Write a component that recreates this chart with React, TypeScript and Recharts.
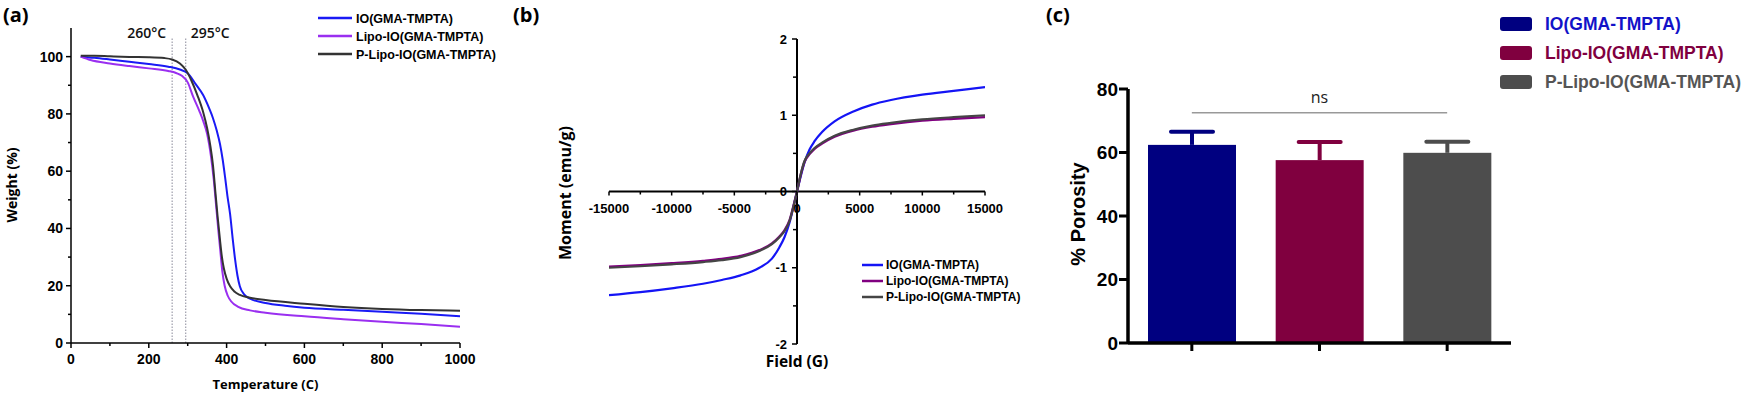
import React from 'react';
import { LineChart, Line, XAxis, YAxis, ReferenceLine, BarChart, Bar, Legend } from 'recharts';

const ARIAL = '"Liberation Sans", Arial, Helvetica, sans-serif';
const OPEN = '"Open Sans", "DejaVu Sans", sans-serif';

// ---------------- shared ----------------
const seriesNames = ['IO(GMA-TMPTA)', 'Lipo-IO(GMA-TMPTA)', 'P-Lipo-IO(GMA-TMPTA)'];

// ---------------- (a) TGA: [temperature C, weight %] ----------------
const tgaIO: [number, number][] = [
  [25, 100], [60, 99.6], [100, 99.0], [150, 98.2], [200, 97.4], [250, 96.5], [280, 95.5], [300, 94.2],
  [320, 90.5], [340, 86.5], [355, 82], [365, 78.5], [375, 74], [383, 69.5], [390, 64], [396, 58],
  [402, 51.5], [409, 45], [416, 36], [422, 29], [428, 23.5], [434, 19.8], [445, 17], [460, 15.5],
  [500, 14], [550, 13], [600, 12.3], [700, 11.6], [800, 10.9], [900, 10.2], [1000, 9.3],
];
const tgaLipo: [number, number][] = [
  [25, 100], [50, 98.8], [100, 97.6], [150, 96.7], [200, 95.9], [250, 95.0], [270, 94.3], [285, 93.3],
  [300, 91], [314, 86], [330, 81], [340, 77.5], [350, 73], [360, 65], [367, 57], [373, 48], [379, 39],
  [384, 32], [389, 25], [395, 20], [403, 16.5], [412, 14.5], [430, 12.6], [460, 11.4], [500, 10.6],
  [600, 9.3], [700, 8.3], [800, 7.4], [900, 6.6], [1000, 5.7],
];
const tgaPLipo: [number, number][] = [
  [25, 100.3], [60, 100.3], [100, 100.1], [150, 99.9], [200, 99.8], [240, 99.5], [260, 99], [280, 97.6],
  [295, 95.4], [310, 91.5], [325, 86.5], [340, 80.5], [350, 75], [358, 69], [365, 62], [371, 53],
  [377, 44], [383, 36], [388, 30], [393, 26], [400, 22.5], [409, 19.8], [420, 18], [434, 16.8],
  [460, 15.8], [500, 15], [600, 13.7], [700, 12.6], [800, 11.9], [900, 11.5], [1000, 11.3],
];
const tgaTicksX = [0, 100, 200, 300, 400, 500, 600, 700, 800, 900, 1000];
const tgaTicksY = [0, 10, 20, 30, 40, 50, 60, 70, 80, 90, 100];
const tgaMarkers = [260, 295];
const tgaMarkerTop = 106.5;

// ---------------- (b) VSM: [field G, moment emu/g] ----------------
const vsmIO: [number, number][] = [
  [-15000, -1.36], [-12500, -1.32], [-10000, -1.27], [-7500, -1.21], [-6000, -1.16], [-4500, -1.1],
  [-3000, -1.0], [-2000, -0.88], [-1400, -0.73], [-1000, -0.6], [-600, -0.41], [-300, -0.21], [0, 0],
  [300, 0.2], [600, 0.38], [1000, 0.55], [1400, 0.66], [2000, 0.78], [3000, 0.92], [4500, 1.05],
  [6000, 1.14], [7500, 1.2], [10000, 1.27], [12500, 1.32], [15000, 1.37],
];
const vsmLipo: [number, number][] = [
  [-15000, -0.985], [-12500, -0.965], [-10000, -0.94], [-7500, -0.91], [-6000, -0.885], [-4500, -0.845],
  [-3000, -0.77], [-2000, -0.68], [-1400, -0.59], [-1000, -0.51], [-600, -0.38], [-300, -0.2], [0, 0],
  [300, 0.22], [600, 0.39], [1000, 0.49], [1400, 0.56], [2000, 0.63], [3000, 0.72], [4500, 0.8],
  [6000, 0.85], [7500, 0.885], [10000, 0.93], [12500, 0.955], [15000, 0.975],
];
const vsmPLipo: [number, number][] = [
  [-15000, -1.0], [-12500, -0.98], [-10000, -0.955], [-7500, -0.925], [-6000, -0.9], [-4500, -0.86],
  [-3000, -0.78], [-2000, -0.69], [-1400, -0.6], [-1000, -0.52], [-600, -0.39], [-300, -0.21], [0, 0],
  [300, 0.23], [600, 0.4], [1000, 0.5], [1400, 0.57], [2000, 0.64], [3000, 0.73], [4500, 0.81],
  [6000, 0.865], [7500, 0.9], [10000, 0.945], [12500, 0.975], [15000, 1.0],
];
const vsmTicksX = [-15000, -12500, -10000, -7500, -5000, -2500, 0, 2500, 5000, 7500, 10000, 12500, 15000];
const vsmTicksY = [-2, -1.5, -1, -0.5, 0, 0.5, 1, 1.5, 2];

// ---------------- (c) Porosity ----------------
const porosityMean = [62.4, 57.6, 59.9];
const porositySD = [4.1, 5.7, 3.5];
const porosityTicks = [0, 20, 40, 60, 80];
const nsLevel = 72.5;

// ---------------- styles ----------------
const tgaColors = ['#1a1af5', '#9a2ff0', '#333333'];
const vsmColors = ['#1414f5', '#800080', '#454545'];
const barColors = ['#000080', '#80003f', '#4d4d4d'];
const barTextColors = ['#1212c8', '#80003f', '#555555'];

const toPts = (a: [number, number][]) => a.map(([x, y]) => ({ x, y }));

// ---------------- helpers ----------------
type TickOpts = {
  isMajor: (v: number) => boolean;
  major: number;
  minor: number;
  shift?: number;
  labelOffset: number;
  fontSize: number;
  width?: number;
  showLabel?: boolean;
};

const makeBottomTick = (o: TickOpts) => (p: any) => {
  const x = p.x;
  const y = p.y + (o.shift || 0);
  const v = p.payload.value;
  const maj = o.isMajor(v);
  return (
    <g>
      <line x1={x} x2={x} y1={y} y2={y + (maj ? o.major : o.minor)} stroke="#000" strokeWidth={o.width ?? 1.5} />
      {maj && o.showLabel !== false ? (
        <text x={x} y={y + o.labelOffset} textAnchor="middle" fontFamily={ARIAL} fontWeight="bold" fontSize={o.fontSize} fill="#000">
          {String(v)}
        </text>
      ) : null}
    </g>
  );
};

const makeLeftTick = (o: TickOpts) => (p: any) => {
  const x = p.x + (o.shift || 0);
  const y = p.y;
  const v = p.payload.value;
  const maj = o.isMajor(v);
  return (
    <g>
      <line x1={x - (maj ? o.major : o.minor)} x2={x} y1={y} y2={y} stroke="#000" strokeWidth={o.width ?? 1.5} />
      {maj && o.showLabel !== false ? (
        <text x={x - o.labelOffset} y={y + o.fontSize * 0.36} textAnchor="end" fontFamily={ARIAL} fontWeight="bold" fontSize={o.fontSize} fill="#000">
          {String(v)}
        </text>
      ) : null}
    </g>
  );
};

const XTitle = (props: any) => {
  const { viewBox, text, dy, size, family } = props;
  if (!viewBox) return null;
  return (
    <text x={viewBox.x + viewBox.width / 2} y={viewBox.y + dy} textAnchor="middle" fontFamily={family} fontWeight="bold" fontSize={size} fill="#000">
      {text}
    </text>
  );
};

const YTitle = (props: any) => {
  const { viewBox, text, bx, cy, size, family } = props;
  if (!viewBox) return null;
  const x = viewBox.x + bx;
  const y = cy;
  return (
    <text x={x} y={y} transform={`rotate(-90, ${x}, ${y})`} textAnchor="middle" fontFamily={family} fontWeight="bold" fontSize={size} fill="#000">
      {text}
    </text>
  );
};

const MarkerLabel = (props: any) => {
  const { viewBox, text, side } = props;
  if (!viewBox) return null;
  const x = side === 'left' ? viewBox.x - 6 : viewBox.x + 5;
  return (
    <text x={x} y={viewBox.y - 0.5} textAnchor={side === 'left' ? 'end' : 'start'} fontFamily={OPEN} fontWeight={600} fontSize={14} fill="#111">
      {text}
    </text>
  );
};

const NsLabel = (props: any) => {
  const { viewBox } = props;
  if (!viewBox) return null;
  return (
    <text x={viewBox.x + viewBox.width / 2} y={viewBox.y - 10} textAnchor="middle" fontFamily={OPEN} fontSize={16} fill="#222">
      ns
    </text>
  );
};

const LineLegend = (props: any) => {
  const { payload, lineLen, gap, rowH, fontSize, lineW, w } = props;
  const items = payload || [];
  return (
    <svg width={w} height={rowH * items.length} style={{ display: 'block', overflow: 'visible' }}>
      {items.map((e: any, i: number) => (
        <g key={i}>
          <line x1={0} x2={lineLen} y1={rowH * i + rowH / 2} y2={rowH * i + rowH / 2} stroke={e.color} strokeWidth={lineW} />
          <text x={lineLen + gap} y={rowH * i + rowH / 2 + fontSize * 0.36} fontFamily={ARIAL} fontWeight="bold" fontSize={fontSize} fill="#000">
            {e.value}
          </text>
        </g>
      ))}
    </svg>
  );
};

const BarLegend = () => (
  <svg width={290} height={87} style={{ display: 'block', overflow: 'visible' }}>
    {seriesNames.map((n, i) => (
      <g key={n}>
        <rect x={0} y={29 * i + 7} width={32} height={14} rx={3} fill={barColors[i]} />
        <text x={45} y={29 * i + 14 + 17.5 * 0.36} fontFamily={ARIAL} fontWeight="bold" fontSize={17.5} fill={barTextColors[i]}>
          {n}
        </text>
      </g>
    ))}
  </svg>
);

const ErrShape = (props: any) => {
  const { x, y, width, height, payload } = props;
  if (height == null || !payload) return null;
  const pxPerUnit = height / payload.value;
  const top = y - payload.sd * pxPerUnit;
  const cx = x + width / 2;
  const c = payload.color;
  return (
    <g>
      <rect x={x} y={y} width={width} height={height} fill={c} />
      <line x1={cx} x2={cx} y1={y} y2={top} stroke={c} strokeWidth={4} />
      <line x1={cx - 21} x2={cx + 21} y1={top} y2={top} stroke={c} strokeWidth={4} strokeLinecap="round" />
    </g>
  );
};

// ---------------- layout constants ----------------
const A = { w: 505, h: 395, top: 28, left: 71, right: 45, bottom: 52 };
const B = { x0: 545, w: 515, h: 395, top: 39, left: 64, right: 75, bottom: 51 };
const C = { x0: 1040, w: 710, h: 395, top: 89, left: 88, right: 239, bottom: 52 };
const bPlotW = B.w - B.left - B.right;
const bPlotH = B.h - B.top - B.bottom;

const porosityData = seriesNames.map((name, i) => ({
  name,
  value: porosityMean[i],
  sd: porositySD[i],
  color: barColors[i],
}));

export default function App() {
  return (
    <div style={{ position: 'absolute', left: 0, top: 0, width: 1750, height: 395, background: '#fff', overflow: 'hidden' }}>
      {/* (a) */}
      <div style={{ position: 'absolute', left: 0, top: 0 }}>
        <LineChart width={A.w} height={A.h} margin={{ top: A.top, right: A.right, bottom: 0, left: 0 }}>
          <XAxis
            type="number"
            dataKey="x"
            domain={[0, 1000]}
            ticks={tgaTicksX}
            interval={0}
            allowDataOverflow
            height={A.bottom}
            tickSize={0}
            tickMargin={0}
            tickLine={false}
            axisLine={{ stroke: '#000', strokeWidth: 1.5 }}
            tick={makeBottomTick({ isMajor: (v) => v % 200 === 0, major: 5, minor: 3, labelOffset: 21, fontSize: 14 })}
            label={<XTitle text="Temperature (C)" dy={46} size={13} family={OPEN} />}
          />
          <YAxis
            type="number"
            domain={[0, 110]}
            ticks={tgaTicksY}
            interval={0}
            allowDataOverflow
            width={A.left}
            tickSize={0}
            tickMargin={0}
            tickLine={false}
            axisLine={{ stroke: '#000', strokeWidth: 1.5 }}
            tick={makeLeftTick({ isMajor: (v) => v % 20 === 0, major: 5, minor: 3, labelOffset: 8, fontSize: 14 })}
            label={<YTitle text="Weight (%)" bx={17} cy={185} size={14} family={OPEN} />}
          />
          {tgaMarkers.map((m, i) => (
            <ReferenceLine
              key={m}
              segment={[{ x: m, y: 0 }, { x: m, y: tgaMarkerTop }]}
              stroke="#8a8a9a"
              strokeWidth={1}
              strokeDasharray="1.5 1.5"
              label={<MarkerLabel text={`${m}°C`} side={i === 0 ? 'left' : 'right'} />}
            />
          ))}
          <Line data={toPts(tgaIO)} dataKey="y" name={seriesNames[0]} type="monotone" stroke={tgaColors[0]} strokeWidth={2} dot={false} isAnimationActive={false} />
          <Line data={toPts(tgaLipo)} dataKey="y" name={seriesNames[1]} type="monotone" stroke={tgaColors[1]} strokeWidth={2} dot={false} isAnimationActive={false} />
          <Line data={toPts(tgaPLipo)} dataKey="y" name={seriesNames[2]} type="monotone" stroke={tgaColors[2]} strokeWidth={2} dot={false} isAnimationActive={false} />
          <Legend
            layout="vertical"
            align="center"
            verticalAlign="middle"
            wrapperStyle={{ left: 318, top: 9, width: 185, height: 54 }}
            content={(p: any) => <LineLegend payload={p.payload} lineLen={34} gap={4} rowH={18} fontSize={12.5} lineW={2.5} w={185} />}
          />
        </LineChart>
      </div>

      {/* (b) */}
      <div style={{ position: 'absolute', left: B.x0, top: 0 }}>
        <LineChart width={B.w} height={B.h} margin={{ top: B.top, right: B.right, bottom: 0, left: 0 }}>
          <XAxis
            type="number"
            dataKey="x"
            domain={[-15000, 15000]}
            ticks={vsmTicksX}
            interval={0}
            allowDataOverflow
            height={B.bottom}
            tickSize={0}
            tickMargin={0}
            tickLine={false}
            axisLine={false}
            tick={makeBottomTick({ isMajor: (v) => v % 5000 === 0, major: 4, minor: 3, shift: -bPlotH / 2, labelOffset: 21, fontSize: 13 })}
            label={<XTitle text="Field (G)" dy={23} size={15.5} family={OPEN} />}
          />
          <YAxis
            type="number"
            domain={[-2, 2]}
            ticks={vsmTicksY}
            interval={0}
            allowDataOverflow
            width={B.left}
            tickSize={0}
            tickMargin={0}
            tickLine={false}
            axisLine={false}
            tick={makeLeftTick({ isMajor: (v) => Number.isInteger(v), major: 5, minor: 4, shift: bPlotW / 2, labelOffset: 10, fontSize: 13 })}
            label={<YTitle text="Moment (emu/g)" bx={25.5} cy={193} size={16} family={OPEN} />}
          />
          <ReferenceLine y={0} stroke="#000" strokeWidth={2} />
          <ReferenceLine x={0} stroke="#000" strokeWidth={2} />
          <Line data={toPts(vsmIO)} dataKey="y" name={seriesNames[0]} type="monotone" stroke={vsmColors[0]} strokeWidth={2.2} dot={false} isAnimationActive={false} />
          <Line data={toPts(vsmLipo)} dataKey="y" name={seriesNames[1]} type="monotone" stroke={vsmColors[1]} strokeWidth={2.4} dot={false} isAnimationActive={false} />
          <Line data={toPts(vsmPLipo)} dataKey="y" name={seriesNames[2]} type="monotone" stroke={vsmColors[2]} strokeWidth={2.2} dot={false} isAnimationActive={false} />
          <Legend
            layout="vertical"
            align="center"
            verticalAlign="middle"
            wrapperStyle={{ left: 317, top: 257, width: 190, height: 48 }}
            content={(p: any) => <LineLegend payload={p.payload} lineLen={21} gap={3} rowH={16} fontSize={12} lineW={2.5} w={190} />}
          />
        </LineChart>
      </div>

      {/* (c) */}
      <div style={{ position: 'absolute', left: C.x0, top: 0 }}>
        <BarChart width={C.w} height={C.h} data={porosityData} margin={{ top: C.top, right: C.right, bottom: 0, left: 0 }}>
          <XAxis
            dataKey="name"
            type="category"
            height={C.bottom}
            interval={0}
            tickSize={0}
            tickMargin={0}
            tickLine={false}
            axisLine={{ stroke: '#000', strokeWidth: 3.5 }}
            tick={makeBottomTick({ isMajor: () => true, major: 8, minor: 8, labelOffset: 0, fontSize: 0, width: 3, showLabel: false })}
          />
          <YAxis
            type="number"
            domain={[0, 80]}
            ticks={porosityTicks}
            interval={0}
            width={C.left}
            tickSize={0}
            tickMargin={0}
            tickLine={false}
            axisLine={{ stroke: '#000', strokeWidth: 3.5 }}
            tick={makeLeftTick({ isMajor: () => true, major: 9, minor: 9, labelOffset: 10, fontSize: 19, width: 3 })}
            label={<YTitle text="% Porosity" bx={45} cy={214} size={20} family={ARIAL} />}
          />
          <Bar dataKey="value" barSize={88} shape={<ErrShape />} isAnimationActive={false} />
          <ReferenceLine
            segment={[{ x: seriesNames[0], y: nsLevel }, { x: seriesNames[2], y: nsLevel }]}
            stroke="#999"
            strokeWidth={1.5}
            label={<NsLabel />}
          />
          <Legend
            layout="vertical"
            align="center"
            verticalAlign="middle"
            wrapperStyle={{ left: 460, top: 10, width: 250, height: 87 }}
            content={() => <BarLegend />}
          />
        </BarChart>
      </div>

      {/* panel letters */}
      <svg width={1750} height={395} style={{ position: 'absolute', left: 0, top: 0, pointerEvents: 'none' }}>
        <text x={3} y={22} fontFamily={OPEN} fontWeight="bold" fontSize={20} fill="#000">(a)</text>
        <text x={513} y={22} fontFamily={OPEN} fontWeight="bold" fontSize={20} fill="#000">(b)</text>
        <text x={1046} y={22} fontFamily={OPEN} fontWeight="bold" fontSize={20} fill="#000">(c)</text>
      </svg>
    </div>
  );
}
